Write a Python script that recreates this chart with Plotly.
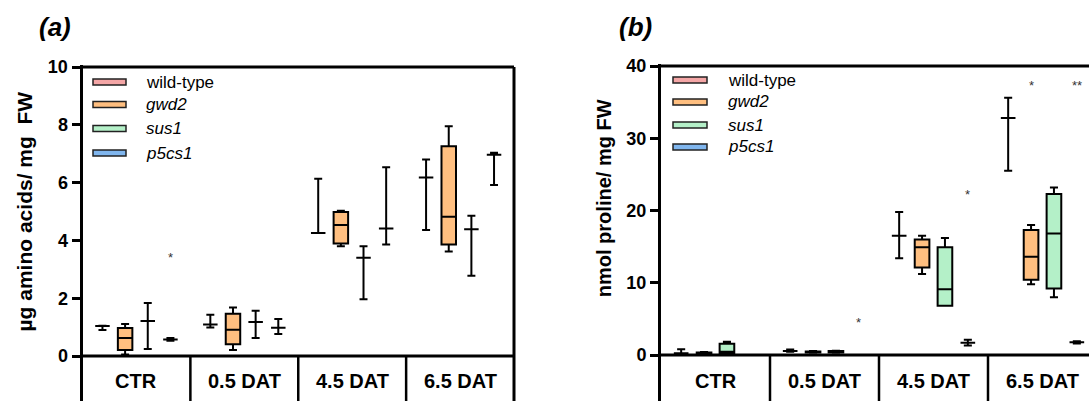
import plotly.graph_objects as go

# ---------------- data ----------------
categories = ["CTR", "0.5 DAT", "4.5 DAT", "6.5 DAT"]
series_names = ["wild-type", "gwd2", "sus1", "p5cs1"]
series_italic = [False, True, True, True]
series_colors = ["#F4A6A6", "#FFBF80", "#B4F0C8", "#80B6EE"]

# (a) amino acids (µg / mg FW)
aa_wt_lo = [0.90, 0.99, 4.26, 4.36]
aa_wt_q1 = [1.04, 1.09, 4.26, 6.18]
aa_wt_med = [1.04, 1.09, 4.26, 6.18]
aa_wt_q3 = [1.04, 1.09, 4.26, 6.18]
aa_wt_hi = [1.05, 1.43, 6.13, 6.80]

aa_gwd2_lo = [0.05, 0.21, 3.80, 3.62]
aa_gwd2_q1 = [0.21, 0.41, 3.89, 3.86]
aa_gwd2_med = [0.62, 0.91, 4.53, 4.82]
aa_gwd2_q3 = [0.97, 1.46, 4.98, 7.26]
aa_gwd2_hi = [1.11, 1.68, 5.03, 7.95]

aa_sus1_lo = [0.24, 0.62, 1.96, 2.78]
aa_sus1_q1 = [1.21, 1.18, 3.40, 4.39]
aa_sus1_med = [1.21, 1.18, 3.40, 4.39]
aa_sus1_q3 = [1.21, 1.18, 3.40, 4.39]
aa_sus1_hi = [1.83, 1.57, 3.80, 4.85]

aa_p5cs1_lo = [0.53, 0.76, 3.86, 5.92]
aa_p5cs1_q1 = [0.57, 0.98, 4.41, 6.96]
aa_p5cs1_med = [0.57, 0.98, 4.41, 6.96]
aa_p5cs1_q3 = [0.57, 0.98, 4.41, 6.96]
aa_p5cs1_hi = [0.62, 1.28, 6.53, 7.03]

# (b) proline (nmol / mg FW)
pro_wt_lo = [0.05, 0.45, 13.4, 25.5]
pro_wt_q1 = [0.25, 0.55, 16.5, 32.8]
pro_wt_med = [0.25, 0.55, 16.5, 32.8]
pro_wt_q3 = [0.25, 0.55, 16.5, 32.8]
pro_wt_hi = [0.80, 0.75, 19.8, 35.6]

pro_gwd2_lo = [0.10, 0.30, 11.2, 9.8]
pro_gwd2_q1 = [0.20, 0.35, 12.1, 10.4]
pro_gwd2_med = [0.30, 0.45, 14.9, 13.6]
pro_gwd2_q3 = [0.35, 0.50, 16.0, 17.3]
pro_gwd2_hi = [0.40, 0.55, 16.5, 18.0]

pro_sus1_lo = [0.15, 0.30, 6.8, 8.0]
pro_sus1_q1 = [0.20, 0.35, 6.8, 9.2]
pro_sus1_med = [0.45, 0.45, 9.1, 16.8]
pro_sus1_q3 = [1.55, 0.55, 14.9, 22.3]
pro_sus1_hi = [1.85, 0.60, 16.2, 23.2]

pro_p5cs1_lo = [None, None, 1.3, 1.6]
pro_p5cs1_q1 = [None, None, 1.7, 1.76]
pro_p5cs1_med = [None, None, 1.7, 1.76]
pro_p5cs1_q3 = [None, None, 1.7, 1.76]
pro_p5cs1_hi = [None, None, 2.1, 1.9]

# significance marks: (category, series, y, text)
stars_a = [("CTR", "p5cs1", 3.55, "*")]
stars_b = [("0.5 DAT", "p5cs1", 5.0, "*"),
           ("4.5 DAT", "p5cs1", 22.7, "*"),
           ("6.5 DAT", "gwd2", 37.8, "*"),
           ("6.5 DAT", "p5cs1", 37.8, "**")]

ytitle_a = "µg amino acids/ mg&nbsp;&nbsp;FW"
ytitle_b = "nmol proline/ mg FW"
panel_labels = ["(a)", "(b)"]

# ---------------- layout constants ----------------
W, H = 1089, 401
FONT = "Arial, 'Liberation Sans', sans-serif"
BOXGAP = 0.16
GROUPGAP = 0.36
PAD = 2  # px of padding so frame lines are not clipped

# panel geometry in pixels
A_LEFT, A_RIGHT, A_TOP, A_ZERO, A_YMAX = 82.5, 514, 67, 356, 10
B_LEFT, B_TOP, B_ZERO, B_YMAX = 661, 66, 355, 40
B_CATW = 109.0

a_ppu = (A_ZERO - A_TOP) / A_YMAX
a_ymin = -(H - A_ZERO) / a_ppu
a_ytop = A_YMAX + PAD / a_ppu
a_catw = (A_RIGHT - A_LEFT) / 4
a_xmax = 3.5 + PAD / a_catw
b_ppu = (B_ZERO - B_TOP) / B_YMAX
b_ymin = -(H - B_ZERO) / b_ppu
b_ytop = B_YMAX + PAD / b_ppu
b_xmax = -0.5 + (W - B_LEFT) / B_CATW

panel_a = [
    (aa_wt_lo, aa_wt_q1, aa_wt_med, aa_wt_q3, aa_wt_hi),
    (aa_gwd2_lo, aa_gwd2_q1, aa_gwd2_med, aa_gwd2_q3, aa_gwd2_hi),
    (aa_sus1_lo, aa_sus1_q1, aa_sus1_med, aa_sus1_q3, aa_sus1_hi),
    (aa_p5cs1_lo, aa_p5cs1_q1, aa_p5cs1_med, aa_p5cs1_q3, aa_p5cs1_hi),
]
panel_b = [
    (pro_wt_lo, pro_wt_q1, pro_wt_med, pro_wt_q3, pro_wt_hi),
    (pro_gwd2_lo, pro_gwd2_q1, pro_gwd2_med, pro_gwd2_q3, pro_gwd2_hi),
    (pro_sus1_lo, pro_sus1_q1, pro_sus1_med, pro_sus1_q3, pro_sus1_hi),
    (pro_p5cs1_lo, pro_p5cs1_q1, pro_p5cs1_med, pro_p5cs1_q3, pro_p5cs1_hi),
]

fig = go.Figure()


def add_panel(stats, xa, ya):
    for name, color, (lo, q1, med, q3, hi) in zip(series_names, series_colors, stats):
        idx = [i for i, v in enumerate(med) if v is not None]
        fig.add_trace(go.Box(
            name=name,
            x=[categories[i] for i in idx],
            lowerfence=[lo[i] for i in idx],
            q1=[q1[i] for i in idx],
            median=[med[i] for i in idx],
            q3=[q3[i] for i in idx],
            upperfence=[hi[i] for i in idx],
            fillcolor=color,
            line=dict(color="black", width=2),
            whiskerwidth=0.55,
            boxpoints=False,
            showlegend=False,
            offsetgroup=name,
            xaxis=xa, yaxis=ya,
            hoverinfo="skip",
        ))


add_panel(panel_a, "x", "y")
add_panel(panel_b, "x2", "y2")

shapes = []
annotations = []
LW = 3


def line(xref, yref, x0, y0, x1, y1, w=LW):
    shapes.append(dict(type="line", xref=xref, yref=yref, x0=x0, y0=y0, x1=x1, y1=y1,
                       line=dict(color="black", width=w), layer="above"))


# panel a frame
line("x", "y", -0.5, A_YMAX, 3.5, A_YMAX)
line("x", "y", 3.5, a_ymin, 3.5, A_YMAX)
line("x", "y", -0.5, 0, 3.5, 0)
for s in [0.5, 1.5, 2.5]:
    line("x", "y", s, a_ymin, s, 0, 2.5)
# panel b frame
line("x2", "y2", -0.5, B_YMAX, b_xmax, B_YMAX)
line("x2", "y2", -0.5, 0, b_xmax, 0)
for s in [0.5, 1.5, 2.5]:
    line("x2", "y2", s, b_ymin, s, 0, 2.5)

# category labels (table row)
LABEL_PY = 381
CAT_FONT = dict(family=FONT, size=20, color="black", weight="bold")
for i, c in enumerate(categories):
    annotations.append(dict(x=i, y=-(LABEL_PY - A_ZERO) / a_ppu, xref="x", yref="y", text=c,
                            xanchor="center", yanchor="middle", showarrow=False, font=CAT_FONT))
    annotations.append(dict(x=i, y=-(LABEL_PY - B_ZERO) / b_ppu, xref="x2", yref="y2", text=c,
                            xanchor="center", yanchor="middle", showarrow=False, font=CAT_FONT))

# significance stars
slot = (1 - BOXGAP) / len(series_names)


def add_stars(stars, xref, yref):
    for cat, ser, yv, txt in stars:
        k = series_names.index(ser)
        xv = categories.index(cat) + (k - (len(series_names) - 1) / 2) * slot
        annotations.append(dict(x=xv, y=yv, xref=xref, yref=yref, text=txt, showarrow=False,
                                xanchor="center", yanchor="middle", yshift=-4,
                                font=dict(family=FONT, size=13, color="#333333")))


add_stars(stars_a, "x", "y")
add_stars(stars_b, "x2", "y2")

# axis titles
annotations.append(dict(x=24 / W, y=A_YMAX / 2, xref="paper", yref="y", text=ytitle_a, textangle=-90,
                        xanchor="center", yanchor="middle", showarrow=False,
                        font=dict(family=FONT, size=21, color="black", weight="bold")))
annotations.append(dict(x=604 / W, y=21.7, xref="paper", yref="y2", text=ytitle_b, textangle=-90,
                        xanchor="center", yanchor="middle", showarrow=False,
                        font=dict(family=FONT, size=20, color="black", weight="bold")))

# panel labels
for txt, px in zip(panel_labels, [55, 635]):
    annotations.append(dict(x=px / W, y=1 - 27 / H, xref="paper", yref="paper", text=f"<b><i>{txt}</i></b>",
                            xanchor="center", yanchor="middle", showarrow=False,
                            font=dict(family=FONT, size=26, color="black")))


# manual legends
def add_legend(sw_x0, sw_x1, text_x, rows_y):
    for name, italic, color, py in zip(series_names, series_italic, series_colors, rows_y):
        shapes.append(dict(type="rect", xref="paper", yref="paper",
                           x0=sw_x0 / W, x1=sw_x1 / W, y0=1 - (py - 3) / H, y1=1 - (py + 3) / H,
                           fillcolor=color, line=dict(color="#222222", width=1.5), layer="above"))
        label = f"<i>{name}</i>" if italic else name
        annotations.append(dict(x=text_x / W, y=1 - py / H, xref="paper", yref="paper", text=label,
                                xanchor="left", yanchor="middle", showarrow=False,
                                font=dict(family=FONT, size=17, color="black")))


add_legend(93, 126, 144, [82, 104.5, 128.5, 153])
add_legend(673, 707, 726, [80, 102, 125, 147])

yaxis_common = dict(showgrid=False, zeroline=False, showline=True, linewidth=LW, linecolor="black",
                    ticks="outside", ticklen=8, tickwidth=LW, tickcolor="black", automargin=False,
                    tickfont=dict(family=FONT, size=18, color="black", weight="bold"))
xaxis_common = dict(showgrid=False, zeroline=False, showline=False, showticklabels=False, ticks="",
                    automargin=False, type="category", categoryorder="array", categoryarray=categories)

fig.update_layout(
    width=W, height=H,
    margin=dict(l=0, r=0, t=0, b=0, autoexpand=False),
    paper_bgcolor="white", plot_bgcolor="white",
    boxmode="group", boxgap=BOXGAP, boxgroupgap=GROUPGAP,
    showlegend=False,
    xaxis=dict(domain=[A_LEFT / W, (A_RIGHT + PAD) / W], range=[-0.5, a_xmax], anchor="y", **xaxis_common),
    yaxis=dict(domain=[0, 1 - (A_TOP - PAD) / H], range=[a_ymin, a_ytop], anchor="x",
               tickvals=[0, 2, 4, 6, 8, 10], **yaxis_common),
    xaxis2=dict(domain=[B_LEFT / W, 1], range=[-0.5, b_xmax], anchor="y2", **xaxis_common),
    yaxis2=dict(domain=[0, 1 - (B_TOP - PAD) / H], range=[b_ymin, b_ytop], anchor="x2",
                tickvals=[0, 10, 20, 30, 40], **yaxis_common),
    shapes=shapes,
    annotations=annotations,
)

fig.write_html("out.html", config={"displayModeBar": False},
               post_script="document.body.style.margin='0';")
